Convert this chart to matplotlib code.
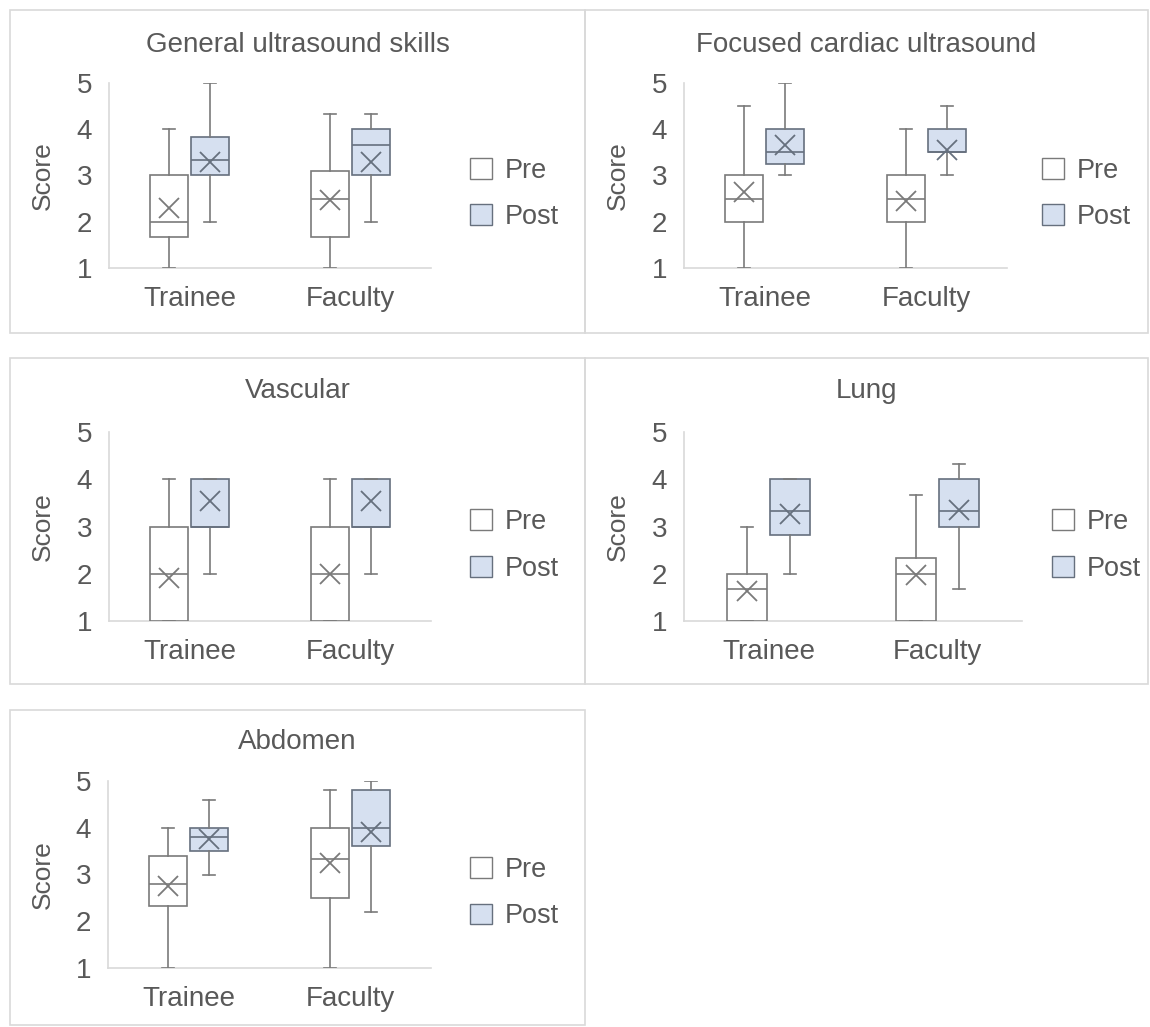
import matplotlib.pyplot as plt
from matplotlib.patches import Rectangle, Patch

plt.rcParams['font.family'] = ['Liberation Sans', 'DejaVu Sans']

W, H = 1150, 1027

groups = ['Trainee', 'Faculty']
series = ['Pre', 'Post']
titles = ['General ultrasound skills', 'Focused cardiac ultrasound',
          'Vascular', 'Lung', 'Abdomen']

# five-number summaries + mean
# order per panel: Trainee Pre, Trainee Post, Faculty Pre, Faculty Post
# each: (whisker low, q1, median, q3, whisker high, mean)
general = [(1, 1.67, 2.0, 3.0, 4.0, 2.3),
           (2, 3.0, 3.33, 3.83, 5.0, 3.3),
           (1, 1.67, 2.5, 3.1, 4.33, 2.47),
           (2, 3.0, 3.67, 4.0, 4.33, 3.3)]
cardiac = [(1, 2.0, 2.5, 3.0, 4.5, 2.65),
           (3, 3.25, 3.5, 4.0, 5.0, 3.65),
           (1, 2.0, 2.5, 3.0, 4.0, 2.45),
           (3, 3.5, 3.5, 4.0, 4.5, 3.55)]
vascular = [(1, 1.0, 2.0, 3.0, 4.0, 1.9),
            (2, 3.0, 3.0, 4.0, 4.0, 3.55),
            (1, 1.0, 2.0, 3.0, 4.0, 2.0),
            (2, 3.0, 3.0, 4.0, 4.0, 3.55)]
lung = [(1, 1.0, 1.67, 2.0, 3.0, 1.63),
        (2, 2.83, 3.33, 4.0, 4.0, 3.27),
        (1, 1.0, 2.0, 2.33, 3.67, 1.97),
        (1.67, 3.0, 3.33, 4.0, 4.33, 3.35)]
abdomen = [(1, 2.33, 2.8, 3.4, 4.0, 2.75),
           (3, 3.5, 3.8, 4.0, 4.6, 3.75),
           (1, 2.5, 3.33, 4.0, 4.8, 3.25),
           (2.2, 3.6, 4.0, 4.8, 5.0, 3.9)]
panels_data = [general, cardiac, vascular, lung, abdomen]

# layout in pixels: panel frame (x0, y0, x1, y1), axes (left, top, right, bottom)
frames = [(10, 10, 585, 333), (585, 10, 1148, 333),
          (10, 358, 585, 684), (585, 358, 1148, 684),
          (10, 710, 585, 1025)]
axes_px = [(109, 83, 431, 268), (684, 83, 1007, 268),
           (109, 432, 431, 621), (684, 432, 1022, 621),
           (108, 781, 431, 968)]
title_y = [45, 45, 391, 391, 742]
legend_x = [470, 1042, 470, 1052, 470]

text_c = '#595959'
pre_fill, post_fill = 'white', '#d6e0f0'
pre_edge, post_edge = '#7a7a7a', '#66707e'

fig = plt.figure(figsize=(W / 100, H / 100), dpi=100)

for (x0, y0, x1, y1) in frames:
    fig.add_artist(Rectangle((x0 / W, 1 - y1 / H), (x1 - x0) / W, (y1 - y0) / H,
                             transform=fig.transFigure, fill=False,
                             edgecolor='#d9d9d9', linewidth=1.2))

off, bw = 0.127, 0.236
for i, data in enumerate(panels_data):
    l, t, r, b = axes_px[i]
    ax = fig.add_axes([l / W, 1 - b / H, (r - l) / W, (b - t) / H])
    fx0, fy0, fx1, fy1 = frames[i]
    fig.text((fx0 + fx1) / 2 / W, 1 - title_y[i] / H, titles[i], ha='center',
             va='center', fontsize=20, color=text_c)
    fig.text((fx0 + 33) / W, 1 - (t + b) / 2 / H, 'Score', rotation=90,
             ha='center', va='center', fontsize=19, color=text_c)

    for j, s in enumerate(data):
        g = j // 2
        is_post = j % 2 == 1
        pos = g + 1 + (off if is_post else -off)
        st = [dict(whislo=s[0], q1=s[1], med=s[2], q3=s[3], whishi=s[4],
                   mean=s[5], fliers=[])]
        ec = post_edge if is_post else pre_edge
        ax.bxp(st, positions=[pos], widths=bw, capwidths=0.075,
               showmeans=True, patch_artist=True,
               boxprops=dict(facecolor=post_fill if is_post else pre_fill,
                             edgecolor=ec, linewidth=1.2),
               medianprops=dict(color=ec, linewidth=1.2),
               whiskerprops=dict(color='#7a7a7a', linewidth=1.2),
               capprops=dict(color='#7a7a7a', linewidth=1.2),
               meanprops=dict(marker='x', markersize=14, markeredgecolor=ec,
                              markeredgewidth=1.3), zorder=3)

    ax.set_xlim(0.5, 2.5)
    ax.set_ylim(1, 5)
    ax.set_yticks([1, 2, 3, 4, 5])
    ax.set_yticklabels(['1', '2', '3', '4', '5'])
    ax.set_xticks([1, 2])
    ax.set_xticklabels(groups)
    ax.tick_params(axis='y', length=0, pad=12, labelsize=20, labelcolor=text_c)
    ax.tick_params(axis='x', length=0, pad=13, labelsize=20, labelcolor=text_c)
    for sp in ['top', 'right']:
        ax.spines[sp].set_visible(False)
    for sp in ['left', 'bottom']:
        ax.spines[sp].set_color('#d9d9d9')
        ax.spines[sp].set_linewidth(1.2)
    ax.patch.set_alpha(0)

    handles = [Patch(facecolor=pre_fill, edgecolor=pre_edge, label=series[0]),
               Patch(facecolor=post_fill, edgecolor=post_edge, label=series[1])]
    leg = ax.legend(handles=handles, loc='center left', frameon=False,
                    bbox_to_anchor=((legend_x[i] - l) / (r - l), 0.4),
                    fontsize=19.5, handlelength=0.8, handleheight=0.8,
                    handletextpad=0.5, labelspacing=0.75, borderpad=0,
                    borderaxespad=0)
    for txt in leg.get_texts():
        txt.set_color(text_c)

fig.savefig('out.png', dpi=100)
